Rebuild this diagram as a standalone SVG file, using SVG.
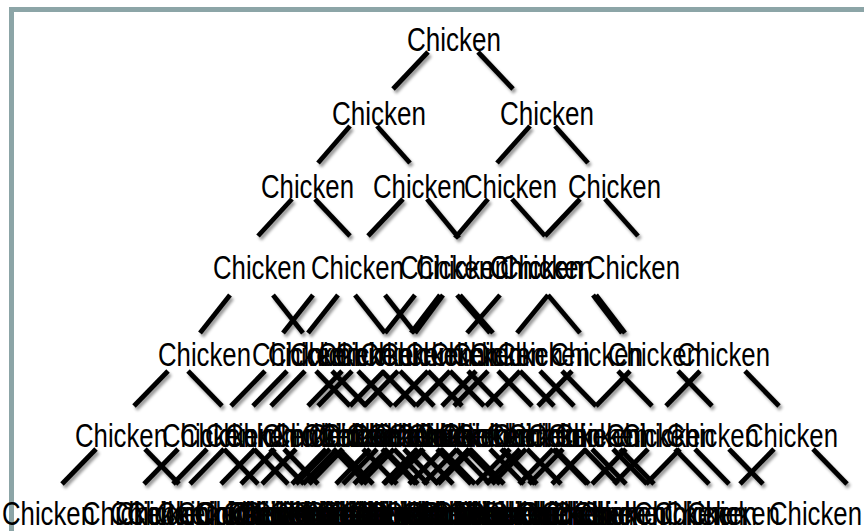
<svg xmlns="http://www.w3.org/2000/svg" width="864" height="531" viewBox="0 0 864 531">
<defs>
<style>
.t{font-family:"Liberation Sans",Arial,Helvetica,sans-serif;font-size:33px;fill:#000}
.c line{stroke:#000;stroke-width:4.8;stroke-linecap:butt}
</style>
<filter id="sh" x="-20%" y="-20%" width="140%" height="160%">
<feDropShadow dx="2" dy="3" stdDeviation="1.5" flood-color="#000" flood-opacity="0.4"/>
</filter>
</defs>
<rect x="0" y="0" width="864" height="531" fill="#fff"/>
<rect x="11.5" y="9.5" width="900" height="600" fill="none" stroke="#8ca5a7" stroke-width="5"/>
<g id="connectors" class="c" filter="url(#sh)">
<line x1="428" y1="52" x2="393" y2="89"/><line x1="478" y1="52" x2="513" y2="89"/>
<line x1="350" y1="126" x2="318" y2="163"/><line x1="377" y1="126" x2="410" y2="163"/>
<line x1="530" y1="126" x2="497" y2="163"/><line x1="555" y1="126" x2="588" y2="163"/>
<line x1="292" y1="199" x2="258" y2="236"/><line x1="315" y1="199" x2="350" y2="236"/>
<line x1="403" y1="199" x2="368" y2="236"/><line x1="427" y1="199" x2="459" y2="238"/>
<line x1="488" y1="199" x2="455" y2="238"/><line x1="512" y1="199" x2="545" y2="236"/>
<line x1="580" y1="199" x2="545" y2="236"/><line x1="605" y1="199" x2="638" y2="236"/>
<line x1="230" y1="295" x2="200" y2="333"/><line x1="273" y1="295" x2="303" y2="333"/>
<line x1="313" y1="295" x2="283" y2="333"/><line x1="338" y1="295" x2="308" y2="333"/>
<line x1="355" y1="295" x2="385" y2="333"/><line x1="415" y1="295" x2="385" y2="333"/>
<line x1="385" y1="295" x2="415" y2="333"/><line x1="443" y1="295" x2="415" y2="333"/>
<line x1="457" y1="295" x2="490" y2="333"/><line x1="500" y1="295" x2="467" y2="333"/>
<line x1="548" y1="295" x2="517" y2="333"/><line x1="548" y1="295" x2="580" y2="333"/>
<line x1="593" y1="295" x2="622" y2="333"/><line x1="440" y1="295" x2="411" y2="333"/>
<line x1="460" y1="295" x2="493" y2="333"/><line x1="596" y1="295" x2="625" y2="333"/>
<line x1="168" y1="371" x2="134" y2="406"/><line x1="188" y1="371" x2="222" y2="406"/>
<line x1="265" y1="371" x2="231" y2="406"/><line x1="316" y1="371" x2="350" y2="406"/>
<line x1="287" y1="371" x2="253" y2="406"/><line x1="332" y1="371" x2="366" y2="406"/>
<line x1="305" y1="371" x2="271" y2="406"/><line x1="358" y1="371" x2="392" y2="406"/>
<line x1="342" y1="371" x2="308" y2="406"/><line x1="382" y1="371" x2="416" y2="406"/>
<line x1="352" y1="371" x2="318" y2="406"/><line x1="400" y1="371" x2="434" y2="406"/>
<line x1="384" y1="371" x2="350" y2="406"/><line x1="428" y1="371" x2="462" y2="406"/>
<line x1="398" y1="371" x2="364" y2="406"/><line x1="450" y1="371" x2="484" y2="406"/>
<line x1="428" y1="371" x2="394" y2="406"/><line x1="468" y1="371" x2="502" y2="406"/>
<line x1="450" y1="371" x2="416" y2="406"/><line x1="498" y1="371" x2="532" y2="406"/>
<line x1="476" y1="371" x2="442" y2="406"/><line x1="520" y1="371" x2="554" y2="406"/>
<line x1="488" y1="371" x2="454" y2="406"/><line x1="540" y1="371" x2="574" y2="406"/>
<line x1="520" y1="371" x2="486" y2="406"/><line x1="562" y1="371" x2="596" y2="406"/>
<line x1="572" y1="371" x2="538" y2="406"/><line x1="618" y1="371" x2="652" y2="406"/>
<line x1="630" y1="371" x2="596" y2="406"/><line x1="678" y1="371" x2="712" y2="406"/>
<line x1="700" y1="371" x2="666" y2="406"/><line x1="745" y1="371" x2="779" y2="406"/>
<line x1="96" y1="449" x2="62" y2="484"/><line x1="145" y1="449" x2="179" y2="484"/>
<line x1="178" y1="449" x2="144" y2="484"/><line x1="224" y1="449" x2="258" y2="484"/>
<line x1="207" y1="449" x2="173" y2="484"/><line x1="254" y1="449" x2="288" y2="484"/>
<line x1="224" y1="449" x2="190" y2="484"/><line x1="270" y1="449" x2="304" y2="484"/>
<line x1="255" y1="449" x2="221" y2="484"/><line x1="284" y1="449" x2="318" y2="484"/>
<line x1="275" y1="449" x2="241" y2="484"/><line x1="333" y1="449" x2="367" y2="484"/>
<line x1="296" y1="449" x2="262" y2="484"/><line x1="339" y1="449" x2="373" y2="484"/>
<line x1="330" y1="449" x2="296" y2="484"/><line x1="363" y1="449" x2="397" y2="484"/>
<line x1="326" y1="449" x2="292" y2="484"/><line x1="384" y1="449" x2="418" y2="484"/>
<line x1="343" y1="449" x2="309" y2="484"/><line x1="382" y1="449" x2="416" y2="484"/>
<line x1="337" y1="449" x2="303" y2="484"/><line x1="394" y1="449" x2="428" y2="484"/>
<line x1="377" y1="449" x2="343" y2="484"/><line x1="404" y1="449" x2="438" y2="484"/>
<line x1="370" y1="449" x2="336" y2="484"/><line x1="419" y1="449" x2="453" y2="484"/>
<line x1="394" y1="449" x2="360" y2="484"/><line x1="441" y1="449" x2="475" y2="484"/>
<line x1="388" y1="449" x2="354" y2="484"/><line x1="437" y1="449" x2="471" y2="484"/>
<line x1="417" y1="449" x2="383" y2="484"/><line x1="456" y1="449" x2="490" y2="484"/>
<line x1="418" y1="449" x2="384" y2="484"/><line x1="466" y1="449" x2="500" y2="484"/>
<line x1="424" y1="449" x2="390" y2="484"/><line x1="470" y1="449" x2="504" y2="484"/>
<line x1="443" y1="449" x2="409" y2="484"/><line x1="490" y1="449" x2="524" y2="484"/>
<line x1="457" y1="449" x2="423" y2="484"/><line x1="503" y1="449" x2="537" y2="484"/>
<line x1="472" y1="449" x2="438" y2="484"/><line x1="501" y1="449" x2="535" y2="484"/>
<line x1="469" y1="449" x2="435" y2="484"/><line x1="527" y1="449" x2="561" y2="484"/>
<line x1="510" y1="449" x2="476" y2="484"/><line x1="553" y1="449" x2="587" y2="484"/>
<line x1="520" y1="449" x2="486" y2="484"/><line x1="555" y1="449" x2="589" y2="484"/>
<line x1="526" y1="449" x2="492" y2="484"/><line x1="584" y1="449" x2="618" y2="484"/>
<line x1="553" y1="449" x2="519" y2="484"/><line x1="592" y1="449" x2="626" y2="484"/>
<line x1="563" y1="449" x2="529" y2="484"/><line x1="620" y1="449" x2="654" y2="484"/>
<line x1="586" y1="449" x2="552" y2="484"/><line x1="613" y1="449" x2="647" y2="484"/>
<line x1="626" y1="449" x2="592" y2="484"/><line x1="675" y1="449" x2="709" y2="484"/>
<line x1="648" y1="449" x2="614" y2="484"/><line x1="695" y1="449" x2="729" y2="484"/>
<line x1="680" y1="449" x2="646" y2="484"/><line x1="729" y1="449" x2="763" y2="484"/>
<line x1="774" y1="449" x2="740" y2="484"/><line x1="813" y1="449" x2="847" y2="484"/>
</g>
<g class="t">
<g id="n0_0"><text x="407" y="51" textLength="94" lengthAdjust="spacingAndGlyphs">Chicken</text></g>
<g id="n1_0"><text x="332" y="125" textLength="94" lengthAdjust="spacingAndGlyphs">Chicken</text></g>
<g id="n1_1"><text x="500" y="125" textLength="94" lengthAdjust="spacingAndGlyphs">Chicken</text></g>
<g id="n2_0"><text x="261" y="198" textLength="93" lengthAdjust="spacingAndGlyphs">Chicken</text></g>
<g id="n2_1"><text x="373" y="198" textLength="93" lengthAdjust="spacingAndGlyphs">Chicken</text></g>
<g id="n2_2"><text x="464" y="198" textLength="93" lengthAdjust="spacingAndGlyphs">Chicken</text></g>
<g id="n2_3"><text x="568" y="198" textLength="93" lengthAdjust="spacingAndGlyphs">Chicken</text></g>
<g id="n3_0"><text x="213" y="279" textLength="93" lengthAdjust="spacingAndGlyphs">Chicken</text></g>
<g id="n3_1"><text x="311" y="279" textLength="93" lengthAdjust="spacingAndGlyphs">Chicken</text></g>
<g id="n3_2"><text x="400" y="279" textLength="93" lengthAdjust="spacingAndGlyphs">Chicken</text></g>
<g id="n3_3"><text x="416" y="279" textLength="93" lengthAdjust="spacingAndGlyphs">Chicken</text></g>
<g id="n3_4"><text x="490" y="279" textLength="93" lengthAdjust="spacingAndGlyphs">Chicken</text></g>
<g id="n3_5"><text x="490" y="279" textLength="93" lengthAdjust="spacingAndGlyphs">Chicken</text></g>
<g id="n3_6"><text x="500" y="279" textLength="93" lengthAdjust="spacingAndGlyphs">Chicken</text></g>
<g id="n3_7"><text x="587" y="279" textLength="93" lengthAdjust="spacingAndGlyphs">Chicken</text></g>
<g id="n4_0"><text x="158" y="366" textLength="93" lengthAdjust="spacingAndGlyphs">Chicken</text></g>
<g id="n4_1"><text x="252" y="366" textLength="93" lengthAdjust="spacingAndGlyphs">Chicken</text></g>
<g id="n4_2"><text x="268" y="366" textLength="93" lengthAdjust="spacingAndGlyphs">Chicken</text></g>
<g id="n4_3"><text x="290" y="366" textLength="93" lengthAdjust="spacingAndGlyphs">Chicken</text></g>
<g id="n4_4"><text x="318" y="366" textLength="93" lengthAdjust="spacingAndGlyphs">Chicken</text></g>
<g id="n4_5"><text x="335" y="366" textLength="93" lengthAdjust="spacingAndGlyphs">Chicken</text></g>
<g id="n4_6"><text x="360" y="366" textLength="93" lengthAdjust="spacingAndGlyphs">Chicken</text></g>
<g id="n4_7"><text x="380" y="366" textLength="93" lengthAdjust="spacingAndGlyphs">Chicken</text></g>
<g id="n4_8"><text x="405" y="366" textLength="93" lengthAdjust="spacingAndGlyphs">Chicken</text></g>
<g id="n4_9"><text x="430" y="366" textLength="93" lengthAdjust="spacingAndGlyphs">Chicken</text></g>
<g id="n4_10"><text x="452" y="366" textLength="93" lengthAdjust="spacingAndGlyphs">Chicken</text></g>
<g id="n4_11"><text x="470" y="366" textLength="93" lengthAdjust="spacingAndGlyphs">Chicken</text></g>
<g id="n4_12"><text x="497" y="366" textLength="93" lengthAdjust="spacingAndGlyphs">Chicken</text></g>
<g id="n4_13"><text x="550" y="366" textLength="93" lengthAdjust="spacingAndGlyphs">Chicken</text></g>
<g id="n4_14"><text x="608" y="366" textLength="93" lengthAdjust="spacingAndGlyphs">Chicken</text></g>
<g id="n4_15"><text x="677" y="366" textLength="93" lengthAdjust="spacingAndGlyphs">Chicken</text></g>
<g id="n5_0"><text x="75" y="447" textLength="93" lengthAdjust="spacingAndGlyphs">Chicken</text></g>
<g id="n5_1"><text x="162" y="447" textLength="93" lengthAdjust="spacingAndGlyphs">Chicken</text></g>
<g id="n5_2"><text x="180" y="447" textLength="93" lengthAdjust="spacingAndGlyphs">Chicken</text></g>
<g id="n5_3"><text x="205" y="447" textLength="93" lengthAdjust="spacingAndGlyphs">Chicken</text></g>
<g id="n5_4"><text x="225" y="447" textLength="93" lengthAdjust="spacingAndGlyphs">Chicken</text></g>
<g id="n5_5"><text x="262" y="447" textLength="93" lengthAdjust="spacingAndGlyphs">Chicken</text></g>
<g id="n5_6"><text x="272" y="447" textLength="93" lengthAdjust="spacingAndGlyphs">Chicken</text></g>
<g id="n5_7"><text x="302" y="447" textLength="93" lengthAdjust="spacingAndGlyphs">Chicken</text></g>
<g id="n5_8"><text x="308" y="447" textLength="93" lengthAdjust="spacingAndGlyphs">Chicken</text></g>
<g id="n5_9"><text x="318" y="447" textLength="93" lengthAdjust="spacingAndGlyphs">Chicken</text></g>
<g id="n5_10"><text x="322" y="447" textLength="93" lengthAdjust="spacingAndGlyphs">Chicken</text></g>
<g id="n5_11"><text x="346" y="447" textLength="93" lengthAdjust="spacingAndGlyphs">Chicken</text></g>
<g id="n5_12"><text x="350" y="447" textLength="93" lengthAdjust="spacingAndGlyphs">Chicken</text></g>
<g id="n5_13"><text x="368" y="447" textLength="93" lengthAdjust="spacingAndGlyphs">Chicken</text></g>
<g id="n5_14"><text x="374" y="447" textLength="93" lengthAdjust="spacingAndGlyphs">Chicken</text></g>
<g id="n5_15"><text x="388" y="447" textLength="93" lengthAdjust="spacingAndGlyphs">Chicken</text></g>
<g id="n5_16"><text x="396" y="447" textLength="93" lengthAdjust="spacingAndGlyphs">Chicken</text></g>
<g id="n5_17"><text x="408" y="447" textLength="93" lengthAdjust="spacingAndGlyphs">Chicken</text></g>
<g id="n5_18"><text x="416" y="447" textLength="93" lengthAdjust="spacingAndGlyphs">Chicken</text></g>
<g id="n5_19"><text x="438" y="447" textLength="93" lengthAdjust="spacingAndGlyphs">Chicken</text></g>
<g id="n5_20"><text x="442" y="447" textLength="93" lengthAdjust="spacingAndGlyphs">Chicken</text></g>
<g id="n5_21"><text x="456" y="447" textLength="93" lengthAdjust="spacingAndGlyphs">Chicken</text></g>
<g id="n5_22"><text x="486" y="447" textLength="93" lengthAdjust="spacingAndGlyphs">Chicken</text></g>
<g id="n5_23"><text x="492" y="447" textLength="93" lengthAdjust="spacingAndGlyphs">Chicken</text></g>
<g id="n5_24"><text x="508" y="447" textLength="93" lengthAdjust="spacingAndGlyphs">Chicken</text></g>
<g id="n5_25"><text x="528" y="447" textLength="93" lengthAdjust="spacingAndGlyphs">Chicken</text></g>
<g id="n5_26"><text x="548" y="447" textLength="93" lengthAdjust="spacingAndGlyphs">Chicken</text></g>
<g id="n5_27"><text x="555" y="447" textLength="93" lengthAdjust="spacingAndGlyphs">Chicken</text></g>
<g id="n5_28"><text x="606" y="447" textLength="93" lengthAdjust="spacingAndGlyphs">Chicken</text></g>
<g id="n5_29"><text x="622" y="447" textLength="93" lengthAdjust="spacingAndGlyphs">Chicken</text></g>
<g id="n5_30"><text x="666" y="447" textLength="93" lengthAdjust="spacingAndGlyphs">Chicken</text></g>
<g id="n5_31"><text x="745" y="447" textLength="93" lengthAdjust="spacingAndGlyphs">Chicken</text></g>
<g id="n6_0"><text x="2" y="525" textLength="93" lengthAdjust="spacingAndGlyphs">Chicken</text></g>
<g id="n6_1"><text x="116" y="525" textLength="93" lengthAdjust="spacingAndGlyphs">Chicken</text></g>
<g id="n6_2"><text x="82" y="525" textLength="93" lengthAdjust="spacingAndGlyphs">Chicken</text></g>
<g id="n6_3"><text x="194" y="525" textLength="93" lengthAdjust="spacingAndGlyphs">Chicken</text></g>
<g id="n6_4"><text x="110" y="525" textLength="93" lengthAdjust="spacingAndGlyphs">Chicken</text></g>
<g id="n6_5"><text x="223" y="525" textLength="93" lengthAdjust="spacingAndGlyphs">Chicken</text></g>
<g id="n6_6"><text x="127" y="525" textLength="93" lengthAdjust="spacingAndGlyphs">Chicken</text></g>
<g id="n6_7"><text x="238" y="525" textLength="93" lengthAdjust="spacingAndGlyphs">Chicken</text></g>
<g id="n6_8"><text x="157" y="525" textLength="93" lengthAdjust="spacingAndGlyphs">Chicken</text></g>
<g id="n6_9"><text x="252" y="525" textLength="93" lengthAdjust="spacingAndGlyphs">Chicken</text></g>
<g id="n6_10"><text x="177" y="525" textLength="93" lengthAdjust="spacingAndGlyphs">Chicken</text></g>
<g id="n6_11"><text x="300" y="525" textLength="93" lengthAdjust="spacingAndGlyphs">Chicken</text></g>
<g id="n6_12"><text x="197" y="525" textLength="93" lengthAdjust="spacingAndGlyphs">Chicken</text></g>
<g id="n6_13"><text x="306" y="525" textLength="93" lengthAdjust="spacingAndGlyphs">Chicken</text></g>
<g id="n6_14"><text x="231" y="525" textLength="93" lengthAdjust="spacingAndGlyphs">Chicken</text></g>
<g id="n6_15"><text x="329" y="525" textLength="93" lengthAdjust="spacingAndGlyphs">Chicken</text></g>
<g id="n6_16"><text x="227" y="525" textLength="93" lengthAdjust="spacingAndGlyphs">Chicken</text></g>
<g id="n6_17"><text x="350" y="525" textLength="93" lengthAdjust="spacingAndGlyphs">Chicken</text></g>
<g id="n6_18"><text x="243" y="525" textLength="93" lengthAdjust="spacingAndGlyphs">Chicken</text></g>
<g id="n6_19"><text x="348" y="525" textLength="93" lengthAdjust="spacingAndGlyphs">Chicken</text></g>
<g id="n6_20"><text x="237" y="525" textLength="93" lengthAdjust="spacingAndGlyphs">Chicken</text></g>
<g id="n6_21"><text x="360" y="525" textLength="93" lengthAdjust="spacingAndGlyphs">Chicken</text></g>
<g id="n6_22"><text x="277" y="525" textLength="93" lengthAdjust="spacingAndGlyphs">Chicken</text></g>
<g id="n6_23"><text x="369" y="525" textLength="93" lengthAdjust="spacingAndGlyphs">Chicken</text></g>
<g id="n6_24"><text x="270" y="525" textLength="93" lengthAdjust="spacingAndGlyphs">Chicken</text></g>
<g id="n6_25"><text x="384" y="525" textLength="93" lengthAdjust="spacingAndGlyphs">Chicken</text></g>
<g id="n6_26"><text x="293" y="525" textLength="93" lengthAdjust="spacingAndGlyphs">Chicken</text></g>
<g id="n6_27"><text x="405" y="525" textLength="93" lengthAdjust="spacingAndGlyphs">Chicken</text></g>
<g id="n6_28"><text x="287" y="525" textLength="93" lengthAdjust="spacingAndGlyphs">Chicken</text></g>
<g id="n6_29"><text x="402" y="525" textLength="93" lengthAdjust="spacingAndGlyphs">Chicken</text></g>
<g id="n6_30"><text x="316" y="525" textLength="93" lengthAdjust="spacingAndGlyphs">Chicken</text></g>
<g id="n6_31"><text x="420" y="525" textLength="93" lengthAdjust="spacingAndGlyphs">Chicken</text></g>
<g id="n6_32"><text x="317" y="525" textLength="93" lengthAdjust="spacingAndGlyphs">Chicken</text></g>
<g id="n6_33"><text x="430" y="525" textLength="93" lengthAdjust="spacingAndGlyphs">Chicken</text></g>
<g id="n6_34"><text x="322" y="525" textLength="93" lengthAdjust="spacingAndGlyphs">Chicken</text></g>
<g id="n6_35"><text x="434" y="525" textLength="93" lengthAdjust="spacingAndGlyphs">Chicken</text></g>
<g id="n6_36"><text x="341" y="525" textLength="93" lengthAdjust="spacingAndGlyphs">Chicken</text></g>
<g id="n6_37"><text x="453" y="525" textLength="93" lengthAdjust="spacingAndGlyphs">Chicken</text></g>
<g id="n6_38"><text x="355" y="525" textLength="93" lengthAdjust="spacingAndGlyphs">Chicken</text></g>
<g id="n6_39"><text x="466" y="525" textLength="93" lengthAdjust="spacingAndGlyphs">Chicken</text></g>
<g id="n6_40"><text x="369" y="525" textLength="93" lengthAdjust="spacingAndGlyphs">Chicken</text></g>
<g id="n6_41"><text x="464" y="525" textLength="93" lengthAdjust="spacingAndGlyphs">Chicken</text></g>
<g id="n6_42"><text x="366" y="525" textLength="93" lengthAdjust="spacingAndGlyphs">Chicken</text></g>
<g id="n6_43"><text x="489" y="525" textLength="93" lengthAdjust="spacingAndGlyphs">Chicken</text></g>
<g id="n6_44"><text x="406" y="525" textLength="93" lengthAdjust="spacingAndGlyphs">Chicken</text></g>
<g id="n6_45"><text x="515" y="525" textLength="93" lengthAdjust="spacingAndGlyphs">Chicken</text></g>
<g id="n6_46"><text x="416" y="525" textLength="93" lengthAdjust="spacingAndGlyphs">Chicken</text></g>
<g id="n6_47"><text x="517" y="525" textLength="93" lengthAdjust="spacingAndGlyphs">Chicken</text></g>
<g id="n6_48"><text x="422" y="525" textLength="93" lengthAdjust="spacingAndGlyphs">Chicken</text></g>
<g id="n6_49"><text x="545" y="525" textLength="93" lengthAdjust="spacingAndGlyphs">Chicken</text></g>
<g id="n6_50"><text x="448" y="525" textLength="93" lengthAdjust="spacingAndGlyphs">Chicken</text></g>
<g id="n6_51"><text x="553" y="525" textLength="93" lengthAdjust="spacingAndGlyphs">Chicken</text></g>
<g id="n6_52"><text x="458" y="525" textLength="93" lengthAdjust="spacingAndGlyphs">Chicken</text></g>
<g id="n6_53"><text x="580" y="525" textLength="93" lengthAdjust="spacingAndGlyphs">Chicken</text></g>
<g id="n6_54"><text x="481" y="525" textLength="93" lengthAdjust="spacingAndGlyphs">Chicken</text></g>
<g id="n6_55"><text x="573" y="525" textLength="93" lengthAdjust="spacingAndGlyphs">Chicken</text></g>
<g id="n6_56"><text x="520" y="525" textLength="93" lengthAdjust="spacingAndGlyphs">Chicken</text></g>
<g id="n6_57"><text x="634" y="525" textLength="93" lengthAdjust="spacingAndGlyphs">Chicken</text></g>
<g id="n6_58"><text x="541" y="525" textLength="93" lengthAdjust="spacingAndGlyphs">Chicken</text></g>
<g id="n6_59"><text x="654" y="525" textLength="93" lengthAdjust="spacingAndGlyphs">Chicken</text></g>
<g id="n6_60"><text x="573" y="525" textLength="93" lengthAdjust="spacingAndGlyphs">Chicken</text></g>
<g id="n6_61"><text x="687" y="525" textLength="93" lengthAdjust="spacingAndGlyphs">Chicken</text></g>
<g id="n6_62"><text x="664" y="525" textLength="93" lengthAdjust="spacingAndGlyphs">Chicken</text></g>
<g id="n6_63"><text x="769" y="525" textLength="93" lengthAdjust="spacingAndGlyphs">Chicken</text></g>
</g>
</svg>
